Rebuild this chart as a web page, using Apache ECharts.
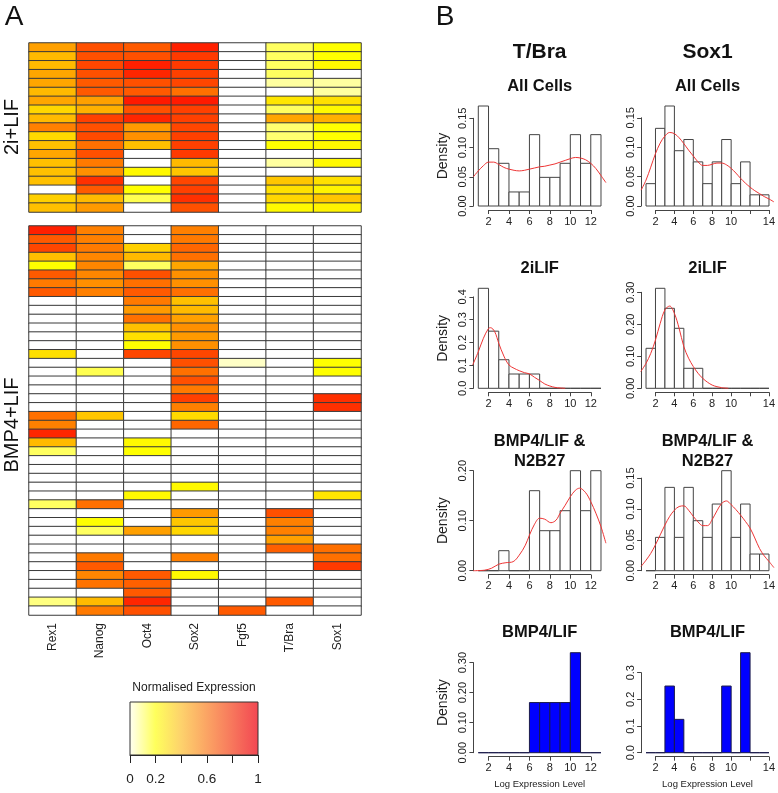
<!DOCTYPE html>
<html><head><meta charset="utf-8">
<script src="https://cdn.jsdelivr.net/npm/echarts@6/dist/echarts.min.js"></script>
<style>html,body{margin:0;padding:0;background:#fff}#c{width:778px;height:793px}</style>
</head><body><div id="c"></div>
<script>
// ---------- Panel A data ----------
const genes = ['Rex1','Nanog','Oct4','Sox2','Fgf5','T/Bra','Sox1'];
// 2i+LIF block (19 cells)
const rex1_2i  = [0.5,0.42,0.42,0.48,0.48,0.42,0.48,0.33,0.42,0.6,0.32,0.4,0.48,0.4,0.4,0.4,0,0.35,0.4];
const nanog_2i = [0.75,0.75,0.78,0.75,0.72,0.72,0.5,0.45,0.8,0.75,0.77,0.65,0.75,0.62,0.55,0.85,0.72,0.42,0.52];
const oct4_2i  = [0.72,0.75,0.9,0.88,0.75,0.72,0.92,0.75,0.88,0.52,0.55,0.4,0,0,0.22,0,0.2,0.15,0];
const sox2_2i  = [0.9,0.82,0.82,0.8,0.78,0.65,0.92,0.8,0.8,0.78,0.8,0.8,0.82,0.42,0.38,0.78,0.8,0.85,0.75];
const fgf5_2i  = [0,0,0,0,0,0,0,0,0,0,0,0,0,0,0,0,0,0,0];
const tbra_2i  = [0.14,0.14,0.14,0.14,0.1,0,0.28,0.14,0.48,0.13,0.13,0.2,0,0.1,0,0.38,0.3,0.33,0.22];
const sox1_2i  = [0.2,0.2,0.22,0,0.1,0.1,0.3,0.22,0.45,0.2,0.2,0.22,0,0.22,0,0.3,0.24,0.38,0.24];
// BMP4+LIF block (44 cells)
const rex1_b  = [0.9,0.72,0.78,0.4,0.2,0.72,0.62,0.72,0,0,0,0,0,0,0.3,0,0,0,0,0,0,0.65,0.6,0.88,0.42,0.14,0,0,0,0,0,0.14,0,0,0,0,0,0,0,0,0,0,0.12,0];
const nanog_b = [0.6,0.6,0.62,0.58,0.58,0.58,0.55,0.6,0,0,0,0,0,0,0,0,0.15,0,0,0,0,0.38,0,0,0,0,0,0,0,0,0,0.65,0,0.2,0.14,0,0,0.62,0.72,0.58,0.64,0,0.42,0.62];
const oct4_b  = [0,0,0.35,0.42,0.14,0.75,0.65,0.72,0.62,0.52,0.65,0.4,0.3,0.2,0.78,0,0,0,0,0,0,0,0,0,0.22,0.2,0,0,0,0,0.22,0,0,0,0.5,0,0,0,0,0.72,0.7,0.72,0.88,0.75];
const sox2_b  = [0.6,0.62,0.68,0.65,0.48,0.55,0.55,0.65,0.4,0.42,0.5,0.55,0.52,0.55,0.78,0.75,0.65,0.75,0.62,0.8,0.6,0.32,0.68,0,0,0,0,0,0,0.22,0,0,0.52,0.38,0.33,0,0,0.6,0,0.22,0,0,0,0];
const fgf5_b  = [0,0,0,0,0,0,0,0,0,0,0,0,0,0,0,0.06,0,0,0,0,0,0,0,0,0,0,0,0,0,0,0,0,0,0,0,0,0,0,0,0,0,0,0,0.72];
const tbra_b  = [0,0,0,0,0,0,0,0,0,0,0,0,0,0,0,0,0,0,0,0,0,0,0,0,0,0,0,0,0,0,0,0,0.75,0.6,0.6,0.5,0.7,0,0,0,0,0,0.72,0];
const sox1_b  = [0,0,0,0,0,0,0,0,0,0,0,0,0,0,0,0.2,0.2,0,0,0.85,0.85,0,0,0,0,0,0,0,0,0,0.28,0,0,0,0,0,0.65,0.65,0.82,0,0,0,0,0];
const legendTicks = [0,0.2,0.4,0.6,0.8,1];
const legendLabels = ['0','0.2','','0.6','','1'];

// ---------- Panel B data (densities per unit bin, bins start at 1) ----------
const tbraAll = [0.171,0.098,0.073,0.024,0.024,0.122,0.049,0.049,0.073,0.122,0.073,0.122];
const sox1All = [0.038,0.132,0.170,0.094,0.113,0.075,0.038,0.075,0.113,0.038,0.075,0.019,0.019];
const tbra2i  = [0.4375,0.25,0.125,0.0625,0.0625,0.0625,0,0,0,0,0,0];
const sox12i  = [0.125,0.3125,0.25,0.1875,0.0625,0.0625,0,0,0,0,0,0,0];
const tbraN2  = [0,0,0.04,0,0,0.16,0.08,0.08,0.12,0.20,0.12,0.20];
const sox1N2  = [0,0.054,0.135,0.054,0.135,0.081,0.054,0.108,0.162,0.054,0.108,0.027,0.027];
const tbraBmp = [0,0,0,0,0,0.167,0.167,0.167,0.167,0.333,0,0];
const sox1Bmp = [0,0,0.25,0.125,0,0,0,0,0.25,0,0.375,0,0];
// density curves
const tbraAllCx = [0.52,1,1.5,2,2.5,3,3.5,4,4.5,5,5.5,6,6.5,7,7.5,8,8.5,9,9.5,10,10.5,11,11.5,12,12.5,13,13.48];
const tbraAllCy = [0.050,0.060,0.069,0.075,0.075,0.071,0.066,0.063,0.061,0.060,0.061,0.063,0.065,0.067,0.068,0.070,0.072,0.075,0.078,0.081,0.083,0.082,0.079,0.073,0.064,0.052,0.040];
const sox1AllCx = [0.48,1,1.5,2,2.5,3,3.5,4,4.5,5,5.5,6,6.5,7,7.5,8,8.5,9,9.5,10,10.5,11,11.5,12,12.5,13,13.5,14,14.52];
const sox1AllCy = [0.027,0.044,0.066,0.089,0.107,0.119,0.125,0.123,0.116,0.106,0.095,0.085,0.075,0.069,0.069,0.071,0.073,0.073,0.070,0.064,0.056,0.047,0.039,0.032,0.026,0.021,0.016,0.012,0.007];
const tbra2iCx = [0.45,1,1.5,2,2.2,2.6,3,3.5,4,4.5,5,5.5,6,6.5,7,7.5,8,8.5,9,9.5];
const tbra2iCy = [0.102,0.16,0.219,0.262,0.265,0.248,0.197,0.141,0.102,0.0875,0.077,0.0685,0.063,0.048,0.034,0.019,0.010,0.004,0.0015,0];
const sox12iCx = [0.44,1,1.5,2,2.5,3,3.5,4,4.5,5,5.5,6,6.5,7,7.5,8,8.5,9,9.7];
const sox12iCy = [0.052,0.078,0.109,0.151,0.203,0.245,0.257,0.234,0.1875,0.130,0.094,0.068,0.047,0.031,0.019,0.010,0.005,0.002,0];
const tbraN2Cx = [0.5,1.6,2.3,3,3.7,4.4,5,5.6,6,6.5,7,7.5,8.1,8.6,9,9.5,10,10.5,10.9,11.5,12,12.5,13,13.48];
const tbraN2Cy = [0,0.001,0.005,0.013,0.016,0.018,0.031,0.051,0.071,0.093,0.105,0.103,0.096,0.101,0.115,0.131,0.148,0.161,0.165,0.156,0.138,0.115,0.088,0.055];
const sox1N2Cx = [0.48,1,1.5,2,2.5,3,3.5,4,4.5,5,5.5,6,6.5,7,7.5,8,8.5,9,9.5,10,10.5,11,11.5,12,12.5,13,13.5,14,14.52];
const sox1N2Cy = [0.007,0.017,0.028,0.042,0.058,0.074,0.088,0.098,0.104,0.105,0.098,0.088,0.079,0.073,0.073,0.083,0.097,0.109,0.113,0.107,0.099,0.090,0.080,0.069,0.053,0.036,0.024,0.015,0.005];

// ---------- build ----------
const FONT = 'Liberation Sans, Arial, sans-serif';
const chart = echarts.init(document.getElementById('c'), null, {renderer:'canvas'});
const grid = [], xAxis = [], yAxis = [], series = [], graphic = [];
const axisCol = '#444', txtCol = '#222';

// Heatmap blocks
const blocks = [
  {arrs:[rex1_2i,nanog_2i,oct4_2i,sox2_2i,fgf5_2i,tbra_2i,sox1_2i], top:43, height:169, labels:false},
  {arrs:[rex1_b,nanog_b,oct4_b,sox2_b,fgf5_b,tbra_b,sox1_b], top:226, height:389, labels:true}
];
blocks.forEach((b, bi) => {
  const n = b.arrs[0].length;
  grid.push({left:29, top:b.top, width:332, height:b.height});
  xAxis.push({type:'category', gridIndex:bi, data:genes, axisLine:{show:false}, axisTick:{show:false},
    splitLine:{show:false},
    axisLabel:{show:b.labels, rotate:90, interval:0, fontSize:12, margin:8, color:txtCol, fontFamily:FONT}});
  yAxis.push({type:'category', gridIndex:bi, inverse:true, data:Array.from({length:n},(_,i)=>String(i+1)), show:false});
  series.push({type:'heatmap', xAxisIndex:bi, yAxisIndex:bi,
    data:b.arrs.flatMap((arr,g)=>arr.map((v,r)=>[g,r,v])),
    itemStyle:{borderColor:'#3a3a3a', borderWidth:1},
    emphasis:{disabled:true}, silent:true});
});

// Legend axis grid
grid.push({left:130, top:702, width:128, height:53});
xAxis.push({type:'value', gridIndex:2, min:0, max:1, interval:0.2,
  axisLine:{onZero:false, lineStyle:{color:'#222'}}, axisTick:{length:8, lineStyle:{color:'#222'}},
  splitLine:{show:false},
  axisLabel:{fontSize:13.5, margin:17, color:txtCol, fontFamily:FONT,
    formatter:v=>{const i=legendTicks.findIndex(t=>Math.abs(t-v)<1e-6); return i>=0?legendLabels[i]:'';}}});
yAxis.push({type:'value', gridIndex:2, show:false});

// Histogram panels
const colT = {left:473.4, width:132.5, px0:478.3, unit:10.23, xmin:0.52, xmax:13.48, t0:2, t1:12, hide:[], cx:539.7};
const colS = {left:641.1, width:132.8, px0:646, unit:9.46, xmin:0.48, xmax:14.52, t0:2, t1:14, hide:[12], cx:707.5};
const rowTops = [102, 284.3, 466.7, 648.7];
const panels = [
  {col:colT,row:0,bars:tbraAll,cx:tbraAllCx,cy:tbraAllCy,yTop:0.15,yStep:0.05,dec:2},
  {col:colS,row:0,bars:sox1All,cx:sox1AllCx,cy:sox1AllCy,yTop:0.15,yStep:0.05,dec:2},
  {col:colT,row:1,bars:tbra2i,cx:tbra2iCx,cy:tbra2iCy,yTop:0.4,yStep:0.1,dec:1},
  {col:colS,row:1,bars:sox12i,cx:sox12iCx,cy:sox12iCy,yTop:0.3,yStep:0.1,dec:2},
  {col:colT,row:2,bars:tbraN2,cx:tbraN2Cx,cy:tbraN2Cy,yTop:0.2,yStep:0.1,dec:2},
  {col:colS,row:2,bars:sox1N2,cx:sox1N2Cx,cy:sox1N2Cy,yTop:0.15,yStep:0.05,dec:2},
  {col:colT,row:3,bars:tbraBmp,yTop:0.3,yStep:0.1,dec:2,blue:true},
  {col:colS,row:3,bars:sox1Bmp,yTop:0.3,yStep:0.1,dec:1,blue:true}
];
let gi = 3;
panels.forEach(p => {
  const c = p.col, top = rowTops[p.row], H = 108, y0 = top + 104;
  const M = Math.max(...p.bars);
  // data grid
  grid.push({left:c.left, top:top, width:c.width, height:H});
  xAxis.push({type:'value', gridIndex:gi, min:c.xmin, max:c.xmax, show:false});
  yAxis.push({type:'value', gridIndex:gi, min:-0.04*M, max:1.04*M, show:false});
  const fill = p.blue ? '#0000ff' : '#ffffff';
  const stroke = p.blue ? '#1a1a4a' : '#444';
  series.push({type:'custom', xAxisIndex:gi, yAxisIndex:gi, silent:true,
    encode:{x:[0,1], y:2},
    data:p.bars.map((d,i)=>[1+i, 2+i, d]),
    renderItem:(params, api)=>{
      const a = api.coord([api.value(0), api.value(2)]);
      const b = api.coord([api.value(1), 0]);
      return {type:'rect', shape:{x:a[0], y:a[1], width:b[0]-a[0], height:b[1]-a[1]},
        style:{fill:fill, stroke:stroke, lineWidth:1}};
    }});
  if (p.cx) {
    series.push({type:'line', xAxisIndex:gi, yAxisIndex:gi, silent:true, clip:true,
      data:p.cx.map((x,i)=>[x, p.cy[i]]), smooth:0.35, symbol:'none',
      lineStyle:{color:'#ee3535', width:1}});
  }
  gi++;
  // x axis grid
  const pa = c.px0 + (c.t0-1)*c.unit, pb = c.px0 + (c.t1-1)*c.unit;
  grid.push({left:pa, top:top, width:pb-pa, height:H});
  xAxis.push({type:'value', gridIndex:gi, min:c.t0, max:c.t1, interval:2, position:'bottom',
    axisLine:{onZero:false, lineStyle:{color:axisCol}}, axisTick:{length:4, lineStyle:{color:axisCol}},
    splitLine:{show:false},
    axisLabel:{fontSize:11, margin:6, color:txtCol, fontFamily:FONT, showMinLabel:true, showMaxLabel:true,
      formatter:v=>c.hide.includes(v)?'':String(v)}});
  yAxis.push({type:'value', gridIndex:gi, show:false});
  gi++;
  // y axis grid
  const yt = y0 - p.yTop/M*100;
  grid.push({left:c.left, top:yt, width:c.width, height:y0-yt});
  xAxis.push({type:'value', gridIndex:gi, show:false});
  yAxis.push({type:'value', gridIndex:gi, min:0, max:p.yTop, interval:p.yStep, position:'left',
    axisLine:{show:true, onZero:false, lineStyle:{color:axisCol}}, axisTick:{show:true, length:4, lineStyle:{color:axisCol}},
    splitLine:{show:false},
    axisLabel:{rotate:90, fontSize:11, margin:5, color:txtCol, fontFamily:FONT, showMinLabel:true, showMaxLabel:true,
      formatter:v=>v.toFixed(p.dec)}});
  gi++;
});

// texts
function txt(t, x, y, size, opts) {
  opts = opts || {};
  graphic.push({type:'text', x:x, y:y, rotation:opts.rot||0, silent:true, z:100,
    style:{text:t, fontSize:size, fontWeight:opts.bold?'bold':'normal', fontFamily:FONT,
      fill:opts.color||'#111', align:'center', verticalAlign:'middle'}});
}
txt('A', 14, 17.5, 28);
txt('B', 445, 17.5, 28);
txt('2i+LIF', 12.5, 127, 20, {rot:Math.PI/2});
txt('BMP4+LIF', 12.5, 425, 20, {rot:Math.PI/2});
txt('Normalised Expression', 194, 688, 12, {color:'#222'});
txt('T/Bra', colT.cx, 52.5, 21, {bold:true});
txt('Sox1', colS.cx, 52.5, 21, {bold:true});
[colT, colS].forEach(c => {
  txt('All Cells', c.cx, 86, 16.5, {bold:true});
  txt('2iLIF', c.cx, 268.5, 16.5, {bold:true});
  txt('BMP4/LIF &', c.cx, 441, 16.5, {bold:true});
  txt('N2B27', c.cx, 461, 16.5, {bold:true});
  txt('BMP4/LIF', c.cx, 632.5, 16.5, {bold:true});
  txt('Log Expression Level', c.cx, 784, 9.5, {color:'#222'});
});
rowTops.forEach(t => txt('Density', 443, t + 54, 14, {rot:Math.PI/2, color:'#222'}));

// legend gradient bar
graphic.push({type:'rect', silent:true, z:50, shape:{x:130, y:702, width:128, height:53},
  style:{fill:new echarts.graphic.LinearGradient(0,0,1,0,[
    {offset:0, color:'#fffff4'},{offset:0.2, color:'#ffff5c'},{offset:0.4, color:'#fdd26c'},
    {offset:0.6, color:'#fba464'},{offset:0.8, color:'#f7765c'},{offset:1, color:'#f24652'}]),
    stroke:'#333', lineWidth:1}});

chart.setOption({
  animation:false,
  backgroundColor:'#fff',
  grid:grid, xAxis:xAxis, yAxis:yAxis, series:series, graphic:graphic,
  visualMap:{type:'continuous', show:false, min:0, max:1, seriesIndex:[0,1], dimension:2,
    inRange:{color:['#ffffff','#ffffa0','#ffff00','#ffe000','#ffc000','#ffa000','#ff8000','#ff6000','#ff4000','#ff2000','#ff0000']}}
});
</script></body></html>
